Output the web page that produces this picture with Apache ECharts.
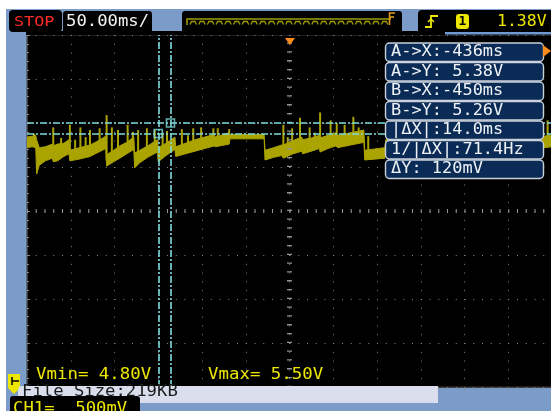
<!DOCTYPE html>
<html>
<head>
<meta charset="utf-8">
<script src="https://cdn.jsdelivr.net/npm/echarts/dist/echarts.min.js"></script>
<style>
  html, body { margin: 0; padding: 0; background: #fff; }
  #scope { width: 551px; height: 411px; }
</style>
</head>
<body>
<div id="scope"></div>
<script>
// ---- acquisition settings ----
const timePerDiv = 50;          // ms per division
const voltsPerDiv = 0.5;        // V per division
const screenTime = [-600, 0];   // ms across the 12 divisions
const screenVolts = [2.38, 6.38]; // V across the 8 divisions
const triggerLevel = 1.38;      // V
const fileSizeKB = 219;

// ---- cursors (time in ms, level in V) ----
const cursorA = [-436, 5.38];
const cursorB = [-450, 5.26];

// ---- CH1 trace: envelope of the noisy band ----
const bandTime = [-600, -594, -590, -589, -586, -579, -571, -570, -565, -558, -552, -551, -540, -528, -520, -510, -509, -501, -494, -486,
                  -478, -477, -471, -462, -451, -450, -441, -431, -430, -419, -408, -397, -386, -385, -369, -368, -329, -328, -318, -309,
                  -307, -296, -286, -285, -275, -266, -265, -256, -247, -245, -230, -215, -214, -191, -190, -151, -150, -111, -110, -71,
                  -70, -37, -35, -9, 0];
const bandTop = [5.22, 5.23, 5.24, 5.19, 5.10, 5.11, 5.14, 5.12, 5.14, 5.15, 5.19, 5.07, 5.10, 5.13, 5.17, 5.23, 5.02, 5.07, 5.12, 5.16,
                 5.22, 5.04, 5.07, 5.12, 5.19, 5.10, 5.15, 5.22, 5.11, 5.15, 5.19, 5.22, 5.25, 5.22, 5.27, 5.25, 5.25, 5.07, 5.10, 5.13,
                 5.13, 5.18, 5.22, 5.19, 5.21, 5.24, 5.21, 5.24, 5.27, 5.24, 5.27, 5.30, 5.07, 5.10, 5.19, 5.26, 5.07, 5.21, 5.10, 5.23,
                 5.07, 5.19, 5.13, 5.23, 5.24];
const bandBottom = [5.10, 5.11, 5.10, 4.80, 4.90, 4.95, 4.98, 4.94, 4.95, 5.00, 5.03, 4.95, 4.97, 5.00, 5.04, 5.09, 4.89, 4.94, 4.98, 5.03,
                    5.08, 4.87, 4.93, 4.99, 5.05, 4.94, 5.01, 5.08, 5.00, 5.03, 5.06, 5.09, 5.12, 5.11, 5.14, 5.20, 5.20, 4.96, 4.99, 5.01,
                    4.98, 5.03, 5.06, 5.03, 5.06, 5.09, 5.05, 5.09, 5.12, 5.10, 5.13, 5.16, 4.96, 4.98, 5.06, 5.13, 4.96, 5.09, 4.98, 5.11,
                    4.96, 5.06, 5.02, 5.10, 5.11];

// ---- CH1 trace: narrow upward glitches ----
const spikeTime = [-592, -570, -561, -551, -545, -539, -533, -528, -517, -509, -503, -496, -485, -479, -473, -463, -454, -445, -440, -423,
                   -416, -410, -401, -387, -382, -369, -307, -302, -297, -288, -277, -271, -265, -253, -246, -237, -227, -221, -210, -5];
const spikePeak = [5.26, 5.33, 5.21, 5.36, 5.19, 5.33, 5.22, 5.30, 5.32, 5.47, 5.33, 5.30, 5.36, 5.28, 5.30, 5.32, 5.30, 5.27, 5.29, 5.31,
                   5.24, 5.32, 5.33, 5.32, 5.32, 5.31, 5.36, 5.22, 5.32, 5.44, 5.33, 5.27, 5.50, 5.41, 5.38, 5.36, 5.45, 5.33, 5.23, 5.41];

// ---- colours ----
const traceColor = '#aba300';
const cursorColor = '#7fdcdc';
const gridDot = '#868686';
const frameBlue = '#7b9bc9';
const textYellow = '#ece600';
const mono = '"DejaVu Sans Mono", "Liberation Mono", monospace';

// screen rectangle (pixels)
const G = { left: 27, top: 35, width: 525, height: 352 };

function bandMidAt(t) {
  for (let i = 0; i < bandTime.length - 1; i++) {
    if (t >= bandTime[i] && t <= bandTime[i + 1]) {
      const span = bandTime[i + 1] - bandTime[i] || 1;
      const f = (t - bandTime[i]) / span;
      const top = bandTop[i] + (bandTop[i + 1] - bandTop[i]) * f;
      const bot = bandBottom[i] + (bandBottom[i + 1] - bandBottom[i]) * f;
      return (top + bot) / 2;
    }
  }
  return bandTop[bandTop.length - 1];
}

// ---- readouts ----
const fmtSigned = (v, digits) => (v < 0 ? '-' : ' ') + Math.abs(v).toFixed(digits);
const dX = Math.abs(cursorA[0] - cursorB[0]);
const dY = Math.abs(cursorA[1] - cursorB[1]);
const measureLabels = [
  'A->X:' + fmtSigned(cursorA[0], 0) + 'ms',
  'A->Y:' + fmtSigned(cursorA[1], 2) + 'V',
  'B->X:' + fmtSigned(cursorB[0], 0) + 'ms',
  'B->Y:' + fmtSigned(cursorB[1], 2) + 'V',
  '|ΔX|:' + dX.toFixed(1) + 'ms',
  '1/|ΔX|:' + (1000 / dX).toFixed(1) + 'Hz',
  'ΔY: ' + Math.round(dY * 1000) + 'mV'
];
const vMin = Math.min(...bandBottom);
const vMax = Math.max(...spikePeak, ...bandTop);

// ---- on-screen furniture ----
const ui = [];
function rect(x, y, w, h, fill, r, z, stroke, lw) {
  ui.push({ type: 'rect', z: z || 50, silent: true, shape: { x, y, width: w, height: h, r: r || 0 },
            style: { fill, stroke: stroke || null, lineWidth: lw || 0 } });
}
function text(x, y, str, color, size, sx, z, extra) {
  ui.push(Object.assign({ type: 'text', z: z || 60, silent: true, x, y, scaleX: sx || 1,
            style: { text: str, fill: color, font: size + 'px ' + mono, verticalAlign: 'middle', align: 'left' } }, extra || {}));
}
function poly(points, color, lw, z, closed) {
  ui.push({ type: closed ? 'polygon' : 'polyline', z: z || 55, silent: true, shape: { points },
            style: closed ? { fill: color } : { stroke: color, lineWidth: lw || 1, fill: null } });
}

// white margins of the capture
rect(0, 0, 551, 9, '#ffffff', 0, 1);
rect(0, 0, 6, 411, '#ffffff', 0, 1);
// black strip above the graticule
rect(26, 31, 525, 4, '#000000', 0, 1);

// run state
rect(9, 10, 53, 22, '#000000', 4, 50);
text(14, 22, 'STOP', '#ff2a2a', 14, 1.2);
// time base
rect(63, 11, 89, 22, '#000000', [3, 3, 0, 0], 50);
text(66, 22, timePerDiv.toFixed(2) + 'ms/', '#f2f2f2', 15, 1.15);
// memory bar
rect(182, 11, 220, 22, '#000000', [3, 3, 0, 0], 50);
poly([[187, 25], [187, 19], [391, 19]], '#a09c00', 1.5);
for (let bx = 190; bx < 385; bx += 8.7) {
  poly([[bx, 24.5], [bx + 1.5, 21.5], [bx + 5, 21.5], [bx + 6.5, 24.5]], '#a09c00', 1.3);
}
poly([[395, 13], [389.5, 13], [389.5, 25]], '#e09a18', 1.6);
poly([[389.5, 17], [394, 17]], '#e09a18', 1.6);
// trigger readout
rect(418, 10, 133, 22, '#000000', [4, 0, 0, 0], 50);
rect(445, 32, 106, 2.5, '#6f9ad6', 0, 50);
poly([[425, 27], [431, 27], [431, 16], [438, 16]], textYellow, 1.8);
poly([[428, 22], [431, 19], [434, 22]], textYellow, 1.5);
rect(456, 14, 13, 15, textYellow, 3, 55);
text(462.5, 22, '1', '#000000', 13, 1, 60, { style: { text: '1', fill: '#000', font: 'bold 13px ' + mono, verticalAlign: 'middle', align: 'center' } });
text(497, 22, triggerLevel.toFixed(2) + 'V', textYellow, 15, 1.1);

// trigger position / level markers
poly([[285, 38], [295, 38], [290, 45]], '#ff8c1a', 0, 55, true);
poly([[543, 45], [551, 51], [543, 57]], '#ff8c1a', 0, 55, true);

// cursor measurement boxes
measureLabels.forEach((lbl, i) => {
  const y0 = 43 + i * 19.5;
  rect(385.5, y0, 158, 18.5, '#0a2b55', 4, 50, '#c9d2dc', 1.4);
  text(391, y0 + 9.6, lbl, '#eef2f6', 15, 1.13);
});

// statistics
text(36, 375, 'Vmin= ' + vMin.toFixed(2) + 'V', textYellow, 15, 1.16);
text(208, 375, 'Vmax= ' + vMax.toFixed(2) + 'V', textYellow, 15, 1.16);

// channel reference marker
poly([[8, 374], [20, 374], [20, 388], [14, 394], [8, 388]], textYellow, 0, 52, true);
poly([[12, 381], [19, 381]], '#000000', 1.5, 53);
poly([[12, 377], [12, 385]], '#000000', 1.5, 53);

// status line
rect(18, 386, 420, 17, '#dadeec', [4, 0, 0, 0], 56);
text(22, 392, 'File Size:' + fileSizeKB + 'KB', '#1a1a1a', 15, 1.15, 58);
rect(10, 396, 130, 15, '#000000', [3, 3, 0, 0], 62);
text(13, 409, 'CH1=  ' + Math.round(voltsPerDiv * 1000) + 'mV', textYellow, 15, 1.15, 64);

const chart = echarts.init(document.getElementById('scope'), null, { renderer: 'canvas' });
chart.setOption({
  backgroundColor: frameBlue,
  animation: false,
  grid: { left: G.left, top: G.top, width: G.width, height: G.height, show: true,
          backgroundColor: '#000000', borderColor: '#3c3c3c', borderWidth: 1,
          containLabel: false, outerBoundsMode: 'none' },
  xAxis: [{
    type: 'value', min: screenTime[0], max: screenTime[1], interval: timePerDiv, position: 'top',
    axisLabel: { show: false },
    axisLine: { show: true, lineStyle: { color: '#3c3c3c' } },
    axisTick: { show: true, inside: true, length: 3, lineStyle: { color: gridDot } },
    minorTick: { show: true, splitNumber: 5, length: 2, lineStyle: { color: gridDot } },
    splitLine: { show: true, lineStyle: { color: gridDot, width: 1, type: [1, 7.8] } }
  }],
  yAxis: [
    { type: 'value', min: screenVolts[0], max: screenVolts[1], show: false },
    { // graticule in divisions
      type: 'value', min: 0, max: 8, interval: 1, position: 'left',
      axisLabel: { show: false },
      axisLine: { show: true, lineStyle: { color: '#3c3c3c' } },
      axisTick: { show: true, inside: true, length: 3, lineStyle: { color: gridDot } },
      minorTick: { show: true, splitNumber: 5, length: 2, lineStyle: { color: gridDot } },
      splitLine: { show: true, lineStyle: { color: gridDot, width: 1, type: [1, 7.75] } }
    }
  ],
  series: [
    { // centre cross of the graticule
      type: 'line', xAxisIndex: 0, yAxisIndex: 1, data: [[screenTime[0], 4]], symbol: 'none',
      lineStyle: { opacity: 0 }, silent: true, z: 1,
      markLine: {
        silent: true, symbol: ['none', 'none'], label: { show: false }, animation: false,
        data: [
          { xAxis: (screenTime[0] + screenTime[1]) / 2, lineStyle: { color: '#929292', width: 5, type: [1.3, 7.5] } },
          { yAxis: 4, lineStyle: { color: '#929292', width: 4, type: [1, 7.75] } }
        ]
      }
    },
    { // CH1 band
      type: 'custom', xAxisIndex: 0, yAxisIndex: 0, z: 3, silent: true, clip: true,
      data: bandTime.map((t, i) => [t, bandTop[i], bandBottom[i]]),
      renderItem: (params, api) => {
        if (params.dataIndex !== 0) return null;
        const pts = [];
        for (let i = 0; i < bandTime.length; i++) pts.push(api.coord([bandTime[i], bandTop[i]]));
        for (let i = bandTime.length - 1; i >= 0; i--) pts.push(api.coord([bandTime[i], bandBottom[i]]));
        return { type: 'polygon', shape: { points: pts }, style: { fill: traceColor, stroke: traceColor, lineWidth: 1 } };
      }
    },
    { // CH1 glitches
      type: 'custom', xAxisIndex: 0, yAxisIndex: 0, z: 3, silent: true, clip: true,
      data: spikeTime.map((t, i) => [t, spikePeak[i]]),
      renderItem: (params, api) => {
        const t = api.value(0);
        const p1 = api.coord([t, api.value(1)]);
        const p2 = api.coord([t, bandMidAt(t)]);
        return { type: 'line', shape: { x1: p1[0], y1: p1[1], x2: p2[0], y2: p2[1] },
                 style: { stroke: traceColor, lineWidth: 2 } };
      }
    },
    { // cursors A and B
      type: 'scatter', xAxisIndex: 0, yAxisIndex: 0, z: 6, silent: true,
      data: [cursorA, cursorB], symbol: 'rect', symbolSize: 8,
      itemStyle: { color: 'rgba(0,0,0,0)', borderColor: cursorColor, borderWidth: 1.6 },
      markLine: {
        silent: true, symbol: ['none', 'none'], label: { show: false }, animation: false,
        lineStyle: { color: cursorColor, width: 1.6, type: [7, 2, 2, 2] },
        data: [{ xAxis: cursorA[0] }, { xAxis: cursorB[0] }, { yAxis: cursorA[1] }, { yAxis: cursorB[1] }]
      }
    }
  ],
  graphic: ui
});
</script>
</body>
</html>
